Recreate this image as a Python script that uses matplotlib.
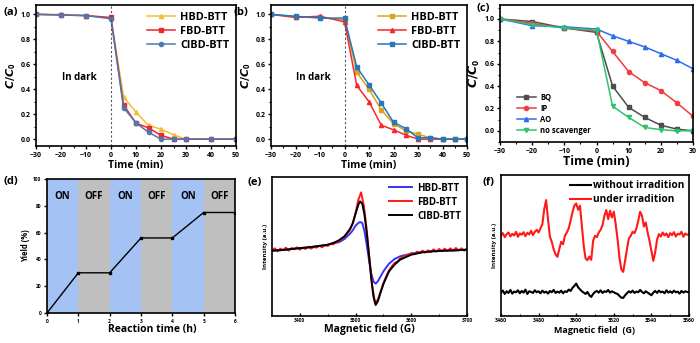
import numpy as np
import matplotlib
matplotlib.use("Agg")
import matplotlib.pyplot as plt
from matplotlib.ticker import MultipleLocator

plt.rcParams['font.family'] = ['Open Sans', 'DejaVu Sans']
plt.rcParams['font.weight'] = 'bold'
plt.rcParams['axes.labelweight'] = 'bold'
plt.rcParams['mathtext.default'] = 'regular'

# ---- (a) degradation, three BTT polymers ----
t_a = [-30, -20, -10, 0, 5, 10, 15, 20, 25, 30, 40, 50]
hbd_a = [1.0, 1.0, 0.99, 0.97, 0.34, 0.216, 0.11, 0.08, 0.035, 0.0, 0.0, 0.0]
fbd_a = [1.0, 0.995, 0.99, 0.975, 0.275, 0.128, 0.09, 0.03, 0.0, 0.0, 0.0, 0.0]
clbd_a = [1.0, 0.995, 0.99, 0.965, 0.253, 0.13, 0.055, 0.0, 0.0, 0.0, 0.0, 0.0]

# ---- (b) ----
t_b = [-30, -20, -10, 0, 5, 10, 15, 20, 25, 30, 35, 40, 45, 50]
hbd_b = [1.0, 0.98, 0.975, 0.955, 0.535, 0.40, 0.235, 0.123, 0.067, 0.04, 0.01, 0.0, 0.0, 0.0]
fbd_b = [1.0, 0.975, 0.985, 0.94, 0.43, 0.30, 0.112, 0.075, 0.032, 0.0, 0.0, 0.0, 0.0, 0.0]
clbd_b = [1.0, 0.985, 0.97, 0.97, 0.578, 0.435, 0.29, 0.135, 0.085, 0.01, 0.012, 0.0, 0.0, 0.0]

# ---- (c) scavenger experiments ----
t_c = [-30, -20, -10, 0, 5, 10, 15, 20, 25, 30]
bq = [1.0, 0.977, 0.92, 0.88, 0.40, 0.21, 0.12, 0.05, 0.015, 0.0]
ip = [1.0, 0.96, 0.92, 0.89, 0.71, 0.53, 0.43, 0.36, 0.25, 0.13]
ao = [1.0, 0.94, 0.93, 0.91, 0.85, 0.80, 0.75, 0.69, 0.63, 0.555]
no_scav = [1.0, 0.95, 0.92, 0.90, 0.22, 0.12, 0.03, 0.01, 0.0, 0.0]

# ---- (d) light on/off ----
t_d = [0, 1, 2, 3, 4, 5, 6]
yield_d = [0, 30, 30, 56, 56, 75, 75]
phases = ['ON', 'OFF', 'ON', 'OFF', 'ON', 'OFF']

# ---- (e) EPR of the polymers ----
field_e = [3350, 3370, 3390, 3410, 3430, 3450, 3460, 3470, 3480, 3490, 3495, 3500,
           3505, 3508, 3512, 3516, 3520, 3524, 3528, 3532, 3536, 3540, 3545, 3550,
           3560, 3570, 3580, 3600, 3620, 3640, 3660, 3680, 3700]
hbd_e = [-3, -1, 3, 6, 10, 14, 20, 22, 32, 48, 58, 72, 80, 83, 80, 55, 15, -30, -70,
         -95, -102, -95, -80, -65, -42, -28, -20, -12, -7, -4, -3, -2, 0]
clbd_e = [-3, -1, 3, 6, 10, 15, 20, 28, 40, 62, 80, 108, 135, 145, 138, 105, 50, -15,
          -85, -140, -166, -155, -128, -103, -65, -45, -30, -15, -8, -5, -3, -2, 0]
# FBD-BTT is noisier, read every 5 G from 3350 G
fbd_e = [-2, 4, -5, 3, -1, 6, -3, 5, 1, 7,
         0, 6, 2, 9, 3, 8, 6, 12, 7, 14,
         11, 17, 16, 22, 24, 32, 38, 48, 60, 78,
         110, 150, 172, 130, 60, -28, -110, -160, -150, -125,
         -100, -80, -62, -50, -40, -36, -26, -24, -16, -17,
         -10, -14, -6, -10, -3, -9, -2, -7, 1, -6,
         2, -5, 3, -4, 4, -3, 5, -2, 4, -3, 2]
field_fbd = 3350 + 5 * np.arange(len(fbd_e))

# ---- (f) spin trapping, 1 G steps from 3460 G ----
dark_f = [70, 76, 66, 74, 69, 78, 67, 73, 71, 77,
          68, 75, 70, 79, 66, 74, 72, 69, 77, 71,
          74, 68, 76, 70, 73, 67, 75, 71, 78, 69,
          73, 70, 76, 68, 74, 72, 79, 75, 84, 90,
          97, 86, 80, 74, 70, 66, 72, 62, 57, 66,
          72, 75, 70, 77, 69, 74, 72, 78, 70, 74,
          71, 68, 66, 60, 55, 54, 62, 68, 74, 70,
          76, 69, 73, 71, 78, 72, 68, 74, 70, 66,
          62, 70, 75, 69, 76, 71, 73, 68, 77, 70,
          74, 69, 76, 71, 73, 67, 75, 70, 74, 72, 71]
light_f = [240, 248, 236, 245, 250, 238, 246, 241, 252, 237,
           247, 243, 251, 239, 249, 244, 255, 242, 252, 258,
           250, 262, 275, 320, 347, 290, 238, 222, 200, 185,
           177, 200, 222, 215, 240, 250, 262, 285, 310, 330,
           337, 318, 330, 270, 210, 172, 167, 178, 168, 225,
           240, 236, 250, 258, 272, 300, 317, 290, 315, 295,
           312, 275, 230, 175, 140, 132, 165, 200, 232, 240,
           252, 248, 262, 285, 312, 300, 268, 280, 250, 225,
           195, 165, 190, 228, 245, 238, 250, 241, 247, 236,
           248, 242, 251, 238, 246, 244, 252, 237, 247, 243, 245]
field_f = 3460 + np.arange(len(light_f))

W, H = 700, 343
fig = plt.figure(figsize=(W / 100, H / 100), dpi=100)


def box(l, t, r, b):
    return fig.add_axes([l / W, 1 - b / H, (r - l) / W, (b - t) / H])


def style(ax, size, direction='out', lw=1.2):
    for s in ax.spines.values():
        s.set_linewidth(lw)
    ax.tick_params(which='major', direction=direction, length=2.5, width=1,
                   labelsize=size, pad=1.5)
    ax.tick_params(which='minor', direction=direction, length=1.5, width=0.8)


def decay_panel(ax, t, series, xmax, xstep):
    for y, c, m, name in series:
        ax.plot(t, y, color=c, marker=m, ms=3, lw=1.1, label=name)
    ax.axvline(0, color='#555555', ls='--', lw=0.8, dashes=(2, 2))
    ax.set_xlim(-30, xmax)
    ax.set_ylim(-0.055, 1.075)
    ax.xaxis.set_major_locator(MultipleLocator(xstep))
    ax.xaxis.set_minor_locator(MultipleLocator(xstep / 2))
    ax.yaxis.set_major_locator(MultipleLocator(0.2))
    ax.yaxis.set_minor_locator(MultipleLocator(0.1))
    ax.set_xlabel('Time (min)', fontsize=7.5, labelpad=1)
    ax.set_ylabel(r'$\mathit{C/C}_0$', fontsize=8, labelpad=2)
    ax.text(-12.5, 0.49, 'In dark', fontsize=7, ha='center', va='center')
    style(ax, 5)
    ax.legend(loc='upper right', frameon=False, fontsize=7.8, handlelength=2.6,
              handletextpad=0.5, labelspacing=0.3, borderaxespad=0.2,
              bbox_to_anchor=(1.0, 1.0))


# (a)
ax_a = box(36, 5, 236, 146)
decay_panel(ax_a, t_a, [(hbd_a, '#F2BE3A', '^', 'HBD-BTT'),
                        (fbd_a, '#F0262C', 's', 'FBD-BTT'),
                        (clbd_a, '#4C78B0', 'o', 'ClBD-BTT')], 50, 10)
fig.text(3 / W, 1 - 12 / H, '(a)', fontsize=8, va='center')

# (b)
ax_b = box(271, 5, 467, 146)
decay_panel(ax_b, t_b, [(hbd_b, '#D9A520', 's', 'HBD-BTT'),
                        (fbd_b, '#F5282E', '^', 'FBD-BTT'),
                        (clbd_b, '#2877B8', 's', 'ClBD-BTT')], 50, 10)
fig.text(233 / W, 1 - 12 / H, '(b)', fontsize=8, va='center')

# (c)
ax_c = box(500, 5, 693, 142)
for y, c, m, name in [(bq, '#4D4D4D', 's', 'BQ'), (ip, '#F03C3C', 'o', 'IP'),
                      (ao, '#2D6CF0', '^', 'AO'), (no_scav, '#2CC36B', 'v', 'no scavenger')]:
    ax_c.plot(t_c, y, color=c, marker=m, ms=3, lw=1.1, label=name)
ax_c.set_xlim(-30, 30)
ax_c.set_ylim(-0.1, 1.125)
ax_c.xaxis.set_major_locator(MultipleLocator(10))
ax_c.xaxis.set_minor_locator(MultipleLocator(5))
ax_c.yaxis.set_major_locator(MultipleLocator(0.2))
ax_c.yaxis.set_minor_locator(MultipleLocator(0.1))
ax_c.set_xlabel('Time (min)', fontsize=9, labelpad=0)
ax_c.set_ylabel(r'$\mathit{C/C}_0$', fontsize=9, labelpad=2)
style(ax_c, 5)
ax_c.legend(loc='lower left', frameon=False, fontsize=5.5, handlelength=2.6,
            handletextpad=0.5, labelspacing=0.3, bbox_to_anchor=(0.05, 0.0))
fig.text(477 / W, 1 - 9 / H, '(c)', fontsize=8, va='center')

# (d)
ax_d = box(47, 179, 235, 313)
for i, p in enumerate(phases):
    ax_d.axvspan(t_d[i], t_d[i + 1], color='#A4C2F4' if p == 'ON' else '#BFBFBF', lw=0)
    ax_d.text((t_d[i] + t_d[i + 1]) / 2, 87, p, fontsize=7, ha='center', va='center')
ax_d.plot(t_d, yield_d, color='black', marker='s', ms=2, lw=1)
ax_d.set_xlim(0, 6)
ax_d.set_ylim(0, 100)
ax_d.yaxis.set_major_locator(MultipleLocator(20))
ax_d.set_xlabel('Reaction time (h)', fontsize=7.5)
ax_d.xaxis.set_label_coords(0.56, -0.08, transform=ax_d.transAxes)
ax_d.xaxis.label.set_va('top')
ax_d.set_ylabel('Yield (%)', fontsize=5.5, labelpad=2)
style(ax_d, 3.5)
fig.text(3 / W, 1 - 181 / H, '(d)', fontsize=8, va='center')

# (e)
ax_e = box(272, 177, 467, 316)
ax_e.plot(field_e, hbd_e, color='#3333FF', lw=1.4, label='HBD-BTT')
ax_e.plot(field_fbd, fbd_e, color='#FF1A1A', lw=1.4, label='FBD-BTT')
ax_e.plot(field_e, clbd_e, color='black', lw=1.4, label='ClBD-BTT')
ax_e.set_xlim(3350, 3700)
ax_e.set_ylim(-199, 218)
ax_e.xaxis.set_major_locator(MultipleLocator(100))
ax_e.xaxis.set_minor_locator(MultipleLocator(50))
ax_e.set_yticks([])
ax_e.set_xlabel('Magnetic field (G)', fontsize=7.5, labelpad=1)
ax_e.set_ylabel('Intensity (a.u.)', fontsize=4.5, labelpad=3)
style(ax_e, 3.5, direction='in')
ax_e.legend(loc='upper right', frameon=False, fontsize=7, handlelength=2.4,
            handletextpad=0.5, labelspacing=0.3, borderaxespad=0.2)
fig.text(248 / W, 1 - 183 / H, '(e)', fontsize=8, va='center')

# (f)
ax_f = box(501, 175, 689, 316)
ax_f.plot(field_f, dark_f, color='black', lw=1.5, label='without irradition')
ax_f.plot(field_f, light_f, color='#FF1A1A', lw=1.5, label='under irradition')
ax_f.set_xlim(3460, 3560)
ax_f.set_ylim(0, 422)
ax_f.xaxis.set_major_locator(MultipleLocator(20))
ax_f.xaxis.set_minor_locator(MultipleLocator(10))
ax_f.set_yticks([])
ax_f.set_xlabel('Magnetic field  (G)', fontsize=6.5, labelpad=2)
ax_f.set_ylabel('Intensity (a.u.)', fontsize=4.5, labelpad=3)
style(ax_f, 3.8, direction='in')
ax_f.legend(loc='upper right', frameon=False, fontsize=7.3, handlelength=2.0,
            handletextpad=0.2, labelspacing=0.3, borderaxespad=0.1)
fig.text(483 / W, 1 - 183 / H, '(f)', fontsize=8, va='center')

fig.savefig('out.png', dpi=100)
